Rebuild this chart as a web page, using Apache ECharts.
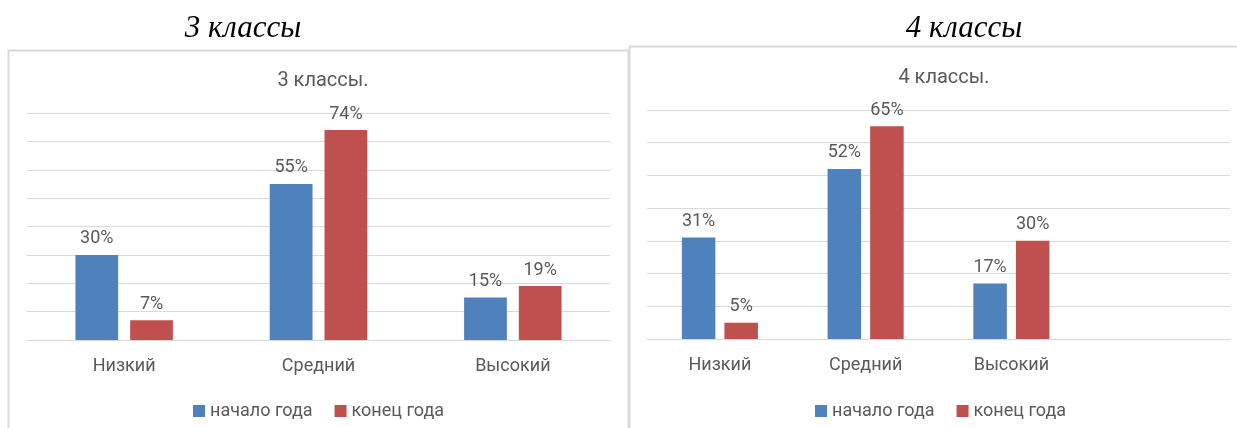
<!DOCTYPE html>
<html>
<head>
<meta charset="utf-8">
<script src="https://cdn.jsdelivr.net/npm/echarts@6/dist/echarts.min.js"></script>
<style>
    html, body { margin: 0; padding: 0; background: #fff; }
    #chart { width: 1237px; height: 428px; }
</style>
</head>
<body>
<div id="chart"></div>
<script>
    // данные
    var categories3 = ['Низкий', 'Средний', 'Высокий'];
    var categories4 = ['Низкий', 'Средний', 'Высокий', ''];
    var start3 = [30, 55, 15];
    var end3 = [7, 74, 19];
    var start4 = [31, 52, 17, null];
    var end4 = [5, 65, 30, null];
    var seriesNames = ['начало года', 'конец года'];

    var gray = '#595959';
    var font = 'Roboto, "Open Sans", sans-serif';

    var myChart = echarts.init(document.getElementById('chart'));

    var labelOption = {
        show: true,
        position: 'top',
        distance: 7,
        formatter: '{c}%',
        color: gray,
        fontSize: 18,
        fontFamily: font
    };

    function xAxisOf(idx, data) {
        return {
            type: 'category', gridIndex: idx, data: data,
            axisTick: { show: false },
            axisLine: { lineStyle: { color: '#d9d9d9', width: 1 } },
            axisLabel: { color: gray, fontSize: 18, fontFamily: font, margin: 17 }
        };
    }
    function yAxisOf(idx, max) {
        return {
            type: 'value', gridIndex: idx, min: 0, max: max, interval: 10,
            axisLabel: { show: false },
            axisLine: { show: false },
            axisTick: { show: false },
            splitLine: { lineStyle: { color: '#d9d9d9', width: 1 } }
        };
    }

    var titleStyle = { fontFamily: '"Liberation Serif", serif', fontStyle: 'italic', fontWeight: 'normal', fontSize: 31, color: '#000' };
    var subStyle = { fontFamily: font, fontWeight: 'normal', fontSize: 20, color: gray };
    var legendStyle = { color: gray, fontSize: 18, fontFamily: font };

    var option = {
        animation: false,
        title: [
            { text: '3 классы', left: 238, top: 8, textAlign: 'center', textStyle: titleStyle },
            { text: '4 классы', left: 959, top: 8, textAlign: 'center', textStyle: titleStyle },
            { text: '3 классы.', left: 318, top: 66, textAlign: 'center', textStyle: subStyle },
            { text: '4 классы.', left: 939, top: 63, textAlign: 'center', textStyle: subStyle }
        ],
        graphic: [
            { type: 'rect', shape: { x: 8.5, y: 50.5, width: 620, height: 400 },
              style: { fill: null, stroke: '#d9d9d9', lineWidth: 2 } },
            { type: 'rect', shape: { x: 629.5, y: 46.5, width: 620, height: 400 },
              style: { fill: '#fff', stroke: '#d9d9d9', lineWidth: 2 }, z: -1 }
        ],
        legend: [
            { data: seriesNames, left: 188, top: 397,
              itemWidth: 12, itemHeight: 12, itemGap: 22, icon: 'rect',
              textStyle: legendStyle },
            { data: seriesNames, left: 810, top: 397,
              itemWidth: 12, itemHeight: 12, itemGap: 22, icon: 'rect',
              textStyle: legendStyle }
        ],
        grid: [
            { left: 27, top: 113, width: 583, height: 227 },
            { left: 647, top: 110, width: 583, height: 229 }
        ],
        xAxis: [xAxisOf(0, categories3), xAxisOf(1, categories4)],
        yAxis: [yAxisOf(0, 80), yAxisOf(1, 70)],
        series: [
            { name: seriesNames[0], type: 'bar', xAxisIndex: 0, yAxisIndex: 0,
              barWidth: '22%', barGap: '28%', itemStyle: { color: '#4f81bd' },
              label: labelOption, data: start3 },
            { name: seriesNames[1], type: 'bar', xAxisIndex: 0, yAxisIndex: 0,
              barWidth: '22%', barGap: '28%', itemStyle: { color: '#c0504d' },
              label: labelOption, data: end3 },
            { name: seriesNames[0], type: 'bar', xAxisIndex: 1, yAxisIndex: 1,
              barWidth: '23%', barGap: '27%', itemStyle: { color: '#4f81bd' },
              label: labelOption, data: start4 },
            { name: seriesNames[1], type: 'bar', xAxisIndex: 1, yAxisIndex: 1,
              barWidth: '23%', barGap: '27%', itemStyle: { color: '#c0504d' },
              label: labelOption, data: end4 }
        ]
    };
    option && myChart.setOption(option);
</script>
</body>
</html>
